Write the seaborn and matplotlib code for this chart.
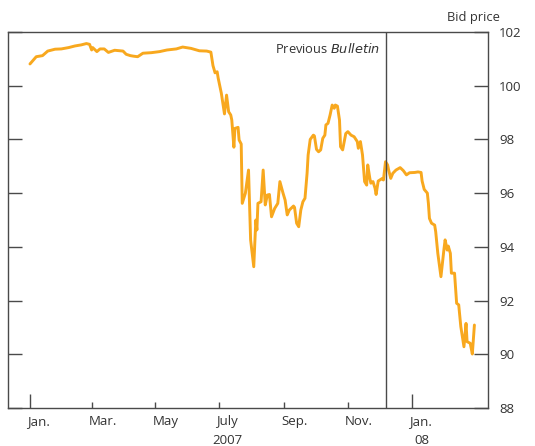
import matplotlib
matplotlib.use("Agg")
import matplotlib.pyplot as plt
import matplotlib.dates as mdates
import matplotlib.transforms as mtransforms
import seaborn as sns
import pandas as pd

# Days since 1 Jan 2007 and gilt bid price
days = [0, 6, 12, 17, 24, 30, 37, 43, 49, 54, 57, 59, 60, 64, 67, 71, 75, 81, 89, 92,
        96, 99, 103, 108, 116, 124, 131, 140, 146, 154, 162, 169, 173, 175, 177, 179, 180,
        183, 186, 188, 190, 192, 193, 195, 196, 199, 200, 202, 203, 206, 209, 211, 214,
        216, 217, 218, 221, 223, 225, 227, 229, 231, 234, 237, 239, 242, 244, 246, 248,
        252, 253, 255, 257, 259, 261, 263, 265, 266, 268, 271, 272, 274, 276, 278, 280,
        282, 283, 285, 287, 289, 291, 292, 294, 296, 297, 299, 302, 304, 307, 310, 313,
        314, 316, 318, 320, 322, 323, 325, 326, 328, 330, 331, 333, 335, 337, 338, 340,
        342, 343, 345, 347, 350, 354, 357, 360, 363, 368, 371, 374, 375, 377, 380, 381,
        382, 384, 387, 388, 390, 393, 396, 397, 399, 400, 402, 403, 406, 408, 410, 412,
        415, 417, 418, 421, 423, 425]
price = [100.81, 101.08, 101.12, 101.29, 101.36, 101.37, 101.42, 101.48, 101.52, 101.57,
         101.54, 101.33, 101.42, 101.27, 101.37, 101.37, 101.24, 101.32, 101.29, 101.17,
         101.12, 101.10, 101.08, 101.21, 101.23, 101.27, 101.33, 101.37, 101.44, 101.39,
         101.30, 101.29, 101.25, 100.75, 100.48, 100.52, 100.28,
         99.72, 98.95, 99.65, 99.03, 98.91, 98.72, 97.71, 98.41, 98.45, 97.98, 97.83, 95.62,
         96.00, 96.86, 94.26, 93.26, 95.00, 94.63, 95.62, 95.68, 96.86, 95.56, 95.93, 95.95,
         95.12, 95.43, 95.62, 96.43, 96.00, 95.74, 95.19, 95.37, 95.52, 95.47, 94.88, 94.75,
         95.37, 95.68, 95.81, 96.74, 97.42, 98.00, 98.16, 98.13, 97.63, 97.54, 97.61, 98.04,
         98.16, 98.54, 98.60, 98.91, 99.28, 99.16, 99.28, 99.24, 98.72, 97.73, 97.61, 98.22,
         98.29, 98.16, 98.10, 97.92, 97.67, 97.92, 97.42, 96.43, 96.30, 97.05, 96.55, 96.37,
         96.43, 96.18, 95.95, 96.45, 96.50, 96.55, 96.49, 97.17, 97.05, 96.86, 96.55, 96.74,
         96.86, 96.95, 96.84, 96.68, 96.76, 96.77, 96.79, 96.77, 96.45, 96.14, 96.00, 95.62,
         95.06, 94.88, 94.81, 94.56, 93.76, 92.89, 93.95, 94.26, 93.88, 94.03, 93.76, 93.02,
         93.02, 91.90, 91.84, 91.03, 90.28, 91.15, 90.47, 90.41, 90.01, 91.09]

month_ticks = ["2007-01-01", "2007-03-01", "2007-05-01", "2007-07-01",
               "2007-09-01", "2007-11-01", "2008-01-01"]
month_labels = ["Jan.", "Mar.", "May", "July", "Sep.", "Nov.", "Jan."]
year_labels = {"2007-07-01": "2007", "2008-01-01": "08"}
y_ticks = [88, 90, 92, 94, 96, 98, 100, 102]
bulletin_date = "2007-12-07"

df = pd.DataFrame({
    "date": pd.Timestamp("2007-01-01") + pd.to_timedelta(days, unit="D"),
    "price": price,
})


def dnum(d):
    return mdates.date2num(pd.Timestamp(d).to_pydatetime())


sns.set_theme(style="white")
plt.rcParams["font.family"] = ["Open Sans", "DejaVu Sans"]

fig = plt.figure(figsize=(5.35, 4.46), dpi=100)
ax = fig.add_axes([8 / 535, 38 / 446, 480 / 535, 376 / 446])

line_color = "#F8A81E"
frame_color = "#4a4a4a"
text_color = "#333333"

sns.lineplot(data=df, x="date", y="price", ax=ax, color=line_color,
             linewidth=2.1, estimator=None, sort=False)

ax.set_xlim(dnum("2006-12-11"), dnum("2008-03-14"))
ax.set_ylim(88, 102)
ax.set_xlabel("")
ax.set_ylabel("")

for s in ax.spines.values():
    s.set_color(frame_color)
    s.set_linewidth(1.0)
    s.set_visible(True)

# y ticks: inward on both sides, labels on right
ax.set_yticks(y_ticks)
ax.yaxis.set_ticks_position("both")
ax.tick_params(axis="y", which="both", direction="in", length=10, width=1.0,
               color=frame_color, labelleft=False, labelright=True,
               labelsize=9.5, labelcolor=text_color, pad=8)

# x ticks: inward, Jan. ticks longer
tick_nums = [dnum(d) for d in month_ticks]
ax.set_xticks(tick_nums)
ax.set_xticklabels([])
ax.tick_params(axis="x", which="major", direction="in", length=4.5, width=1.0,
               color=frame_color, bottom=True, top=False)
ticks = ax.xaxis.get_major_ticks()
for t, d in zip(ticks, month_ticks):
    if d.endswith("-01-01"):
        t.tick1line.set_markersize(10)

trans = mtransforms.blended_transform_factory(ax.transData, ax.transAxes)
for d, lab in zip(month_ticks, month_labels):
    ax.annotate(lab, xy=(dnum(d), 0), xycoords=trans,
                xytext=(-2, -5), textcoords="offset points",
                ha="left", va="top", fontsize=9.5, color=text_color,
                annotation_clip=False)
for d, lab in year_labels.items():
    ax.annotate(lab, xy=(dnum(d), 0), xycoords=trans,
                xytext=(6 if lab == "2007" else 7, -18.5), textcoords="offset points",
                ha="center", va="top", fontsize=9.5, color=text_color,
                annotation_clip=False)

# Previous Bulletin marker
ax.axvline(dnum(bulletin_date), color=frame_color, linewidth=1.0)
ax.annotate("Previous $\\it{Bulletin}$", xy=(dnum(bulletin_date), 1),
            xycoords=trans, xytext=(-4, -7), textcoords="offset points",
            ha="right", va="top", fontsize=9.3, color=text_color)

fig.text(500 / 535, 1 - 18 / 446, "Bid price", ha="right", va="center",
         fontsize=9.3, color=text_color)

fig.savefig("out.png", dpi=100)
